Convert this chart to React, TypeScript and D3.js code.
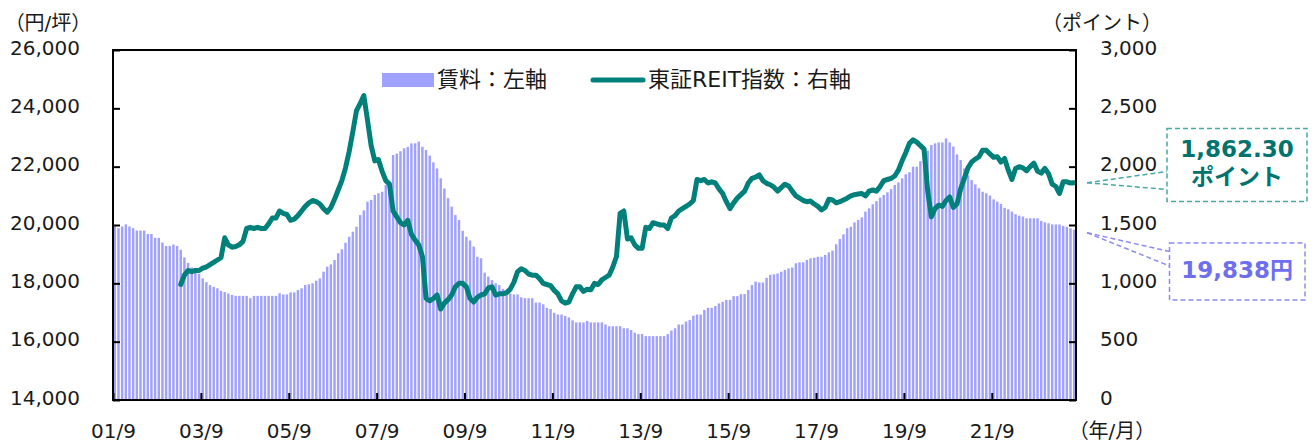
import React, { useRef, useEffect } from 'react';
import * as d3 from 'd3';

// monthly series, 2001/9 .. 2023/7
const START_YEAR = 2001;
const START_MONTH = 9;

// 賃料 (円/坪)
const rent = [
  19950, 19890, 19950, 20020, 19950, 19890, 19810, 19810, 19810, 19690, 19690, 19560, 19560, 19400, 19280, 19280, 19330, 19280,
  19150, 18890, 18700, 18540, 18480, 18330, 18170, 18040, 17940, 17880, 17830, 17740, 17700, 17650, 17600, 17570, 17570, 17570,
  17570, 17490, 17570, 17570, 17570, 17570,
  17570, 17570, 17570, 17660, 17620, 17620, 17690, 17690, 17770, 17830, 17940, 17970, 18000, 18090, 18170, 18400, 18570, 18650,
  18800, 19030, 19170, 19390, 19600, 19770, 19940, 20340, 20500, 20800, 20860, 21030, 21090, 21140, 21370, 21470,
  22400, 22450, 22530, 22630, 22680, 22800, 22800, 22860, 22680, 22570, 22380, 22150, 21940, 21600, 21250, 20920, 20630, 20340,
  20170, 19800, 19600, 19470, 19260, 18910, 18860, 18370, 18230, 18110, 18000, 17940, 17810, 17650, 17650, 17620, 17620, 17520,
  17490, 17490, 17490, 17340, 17340, 17280, 17160, 17120, 16990, 16930, 16930, 16880, 16830, 16730, 16660, 16660, 16660, 16710,
  16660, 16660,
  16660, 16660, 16590, 16530, 16530, 16530, 16530, 16460, 16460, 16400, 16310, 16260, 16260, 16190, 16190, 16190, 16190, 16190,
  16190, 16260, 16380, 16460, 16590, 16590, 16690, 16740, 16890, 16930, 16930, 17090, 17160, 17160, 17220, 17310, 17370, 17430,
  17430, 17560, 17560, 17630, 17630, 17770, 17940, 18060,
  18030, 18030, 18190, 18290, 18310, 18340, 18400, 18460, 18510, 18540, 18690, 18720, 18720, 18800, 18860, 18880, 18910, 18910,
  18970, 19060, 19120, 19340, 19520, 19680, 19890, 19940, 20090, 20170, 20260, 20460, 20570, 20710, 20820, 20940, 21030, 21120,
  21230, 21370, 21460, 21600, 21740, 21810, 22000, 22000,
  22190, 22510, 22550, 22740, 22800, 22830, 22830, 22970, 22830, 22690, 22420, 22230, 21940, 21710, 21540, 21390, 21260, 21140,
  21090, 21010, 20880, 20800, 20720, 20590, 20540, 20460, 20370, 20320, 20290, 20230, 20230, 20230, 20230, 20140, 20090, 20060,
  20020, 20020, 20020, 19970, 19940, 19890, 19838,
];

// 東証REIT指数, starts 2003/3
const reitStart = 18;
const reit = [
  990, 1070, 1110, 1100, 1110, 1110, 1130, 1140, 1160, 1180, 1200, 1220, 1390, 1330, 1310, 1315, 1330, 1360, 1470, 1480,
  1470, 1480, 1470, 1470, 1510, 1560,
  1560, 1620, 1600, 1590, 1540, 1550, 1580, 1620, 1660, 1690, 1710, 1700, 1680, 1640, 1610, 1650, 1720, 1800, 1880, 1990,
  2130, 2300, 2480, 2540, 2610, 2400, 2180, 2050, 2060, 1960, 1880, 1850, 1620, 1570, 1520, 1500, 1540, 1420, 1370, 1330,
  1230, 870, 850, 870, 900,
  780, 830, 860, 900, 970, 1000, 1000, 970, 870, 840, 880, 900, 910, 960, 970, 900, 910, 910, 920, 950,
  1010, 1100, 1125, 1110, 1080, 1070, 1070, 1040, 1000, 990, 980, 940, 910, 850, 830, 840, 910, 970, 970, 930,
  950, 945, 1000,
  990, 1030, 1050, 1070, 1140, 1230, 1600, 1620, 1380, 1390, 1330, 1300, 1300, 1480, 1470, 1520, 1510, 1500, 1500, 1470,
  1560, 1580, 1620, 1640, 1660, 1680, 1710, 1890, 1880, 1890, 1860, 1870, 1860, 1810, 1770, 1700, 1640, 1690, 1730, 1760,
  1790, 1860, 1900, 1910, 1930,
  1880, 1857, 1845, 1825, 1790, 1820, 1850, 1835, 1790, 1750, 1730, 1710, 1700, 1705, 1680, 1660, 1630, 1650, 1720, 1715,
  1690, 1700, 1715, 1730, 1750, 1760, 1765, 1770, 1750, 1790, 1800, 1790, 1830, 1880, 1890, 1900, 1920, 1970, 2050, 2120,
  2200, 2230, 2210, 2180,
  2150, 1790, 1570, 1640, 1670, 1660, 1710, 1740, 1650, 1680, 1810, 1900, 1990, 2040, 2065, 2085, 2140, 2140, 2110, 2080,
  2085, 2040, 2070, 1970, 1890, 1985, 2000, 1990, 1965, 2000, 2030, 1960, 1945, 1985, 1940, 1850, 1830, 1770, 1870, 1870,
  1860, 1862.3,
];

const months = rent.map((_, i) => {
  const m = START_MONTH - 1 + i;
  const y = START_YEAR + Math.floor(m / 12);
  return `${String(y % 100).padStart(2, '0')}/${(m % 12) + 1}`;
});

const xTickLabels = ['01/9', '03/9', '05/9', '07/9', '09/9', '11/9', '13/9', '15/9', '17/9', '19/9', '21/9'];
const leftTicks = [14000, 16000, 18000, 20000, 22000, 24000, 26000];
const rightTicks = [0, 500, 1000, 1500, 2000, 2500, 3000];
const legendLabels = ['賃料：左軸', '東証REIT指数：右軸'];

const W = 1314;
const H = 443;
const FONT = '"DejaVu Sans", "Noto Sans CJK JP", sans-serif';
const BAR = '#a0a0ff';
const LINE = '#00807b';

const App = () => {
  const svgRef = useRef(null);

  useEffect(() => {
    const svg = d3.select(svgRef.current);
    svg.selectAll('*').remove();

    const left = 113, right = 1076, top = 50, bottom = 400;

    const x = d3.scaleBand().domain(months).range([left, right]).paddingInner(0.33).paddingOuter(0.165);
    const xEdge = d3.scaleLinear().domain([0, months.length]).range([left, right]);
    const yL = d3.scaleLinear().domain([14000, 26000]).range([bottom, top]);
    const yR = d3.scaleLinear().domain([0, 3000]).range([bottom, top]);
    const bw = x.bandwidth();

    svg.append('rect').attr('width', W).attr('height', H).attr('fill', '#fff');

    // bars
    svg.append('g')
      .selectAll('rect')
      .data(rent)
      .enter()
      .append('rect')
      .attr('x', (d, i) => x(months[i]))
      .attr('y', (d) => yL(d))
      .attr('width', bw)
      .attr('height', (d) => bottom - yL(d))
      .attr('fill', BAR);

    // REIT line
    const line = d3.line()
      .x((d, i) => x(months[i + reitStart]) + bw / 2)
      .y((d) => yR(d));

    svg.append('path')
      .datum(reit)
      .attr('fill', 'none')
      .attr('stroke', LINE)
      .attr('stroke-width', 5)
      .attr('stroke-linejoin', 'round')
      .attr('stroke-linecap', 'round')
      .attr('d', line);

    // frame
    svg.append('rect')
      .attr('x', left).attr('y', top)
      .attr('width', right - left).attr('height', bottom - top)
      .attr('fill', 'none').attr('stroke', '#000').attr('stroke-width', 2);

    const styleAxis = (g) => {
      g.select('.domain').remove();
      g.selectAll('line').attr('stroke', '#000').attr('stroke-width', 2);
      g.selectAll('text').attr('font-size', 20).attr('font-family', FONT).attr('fill', '#1a1a1a');
    };

    const axL = svg.append('g')
      .attr('transform', `translate(${left},0)`)
      .call(d3.axisLeft(yL).tickValues(leftTicks).tickSize(-7).tickPadding(33).tickFormat(d3.format(',')));
    styleAxis(axL);
    axL.selectAll('text').attr('dy', '0.2em');

    const axR = svg.append('g')
      .attr('transform', `translate(${right},0)`)
      .call(d3.axisRight(yR).tickValues(rightTicks).tickSize(-7).tickPadding(24).tickFormat(d3.format(',')));
    styleAxis(axR);
    axR.selectAll('text').attr('dy', '0.2em');

    const axB = svg.append('g')
      .attr('transform', `translate(0,${bottom})`)
      .call(d3.axisBottom(xEdge).tickValues(d3.range(0, 241, 24)).tickSize(-7).tickPadding(24)
        .tickFormat((d, i) => xTickLabels[i]));
    styleAxis(axB);

    // unit labels
    const unit = (txt, tx, ty, anchor) =>
      svg.append('text').attr('x', tx).attr('y', ty).attr('text-anchor', anchor)
        .attr('font-family', FONT).attr('font-size', 20).attr('fill', '#1a1a1a').text(txt);
    unit('（円/坪）', 48, 30, 'middle');
    unit('（ポイント）', 1162, 30, 'end');
    unit('（年/月）', 1112, 438, 'middle');

    // legend
    const lg = svg.append('g').attr('font-family', FONT).attr('font-size', 22).attr('fill', '#1a1a1a');
    lg.append('rect').attr('x', 382).attr('y', 73).attr('width', 52).attr('height', 14).attr('fill', BAR);
    lg.append('text').attr('x', 437).attr('y', 87).text(legendLabels[0]);
    lg.append('line').attr('x1', 593).attr('x2', 643).attr('y1', 80).attr('y2', 80)
      .attr('stroke', LINE).attr('stroke-width', 5).attr('stroke-linecap', 'round');
    lg.append('text').attr('x', 648).attr('y', 87).text(legendLabels[1]);

    // callouts
    const lastReit = reit[reit.length - 1];
    const lastRent = rent[rent.length - 1];

    const callout = (apexY, box, color, stroke, lines) => {
      const g = svg.append('g');
      [box.y + box.lead[0], box.y + box.lead[1]].forEach((ly) => {
        g.append('line').attr('x1', 1087).attr('y1', apexY).attr('x2', box.x).attr('y2', ly)
          .attr('stroke', stroke).attr('stroke-width', 1.5).attr('stroke-dasharray', '5,3');
      });
      g.append('rect').attr('x', box.x).attr('y', box.y).attr('width', box.w).attr('height', box.h)
        .attr('fill', '#fff').attr('stroke', stroke).attr('stroke-width', 1.5).attr('stroke-dasharray', '5,3');
      lines.forEach(([t, ty]) => {
        g.append('text').attr('x', box.x + box.w / 2).attr('y', ty).attr('text-anchor', 'middle')
          .attr('font-family', FONT).attr('font-size', 23).attr('font-weight', 'bold').attr('fill', color).text(t);
      });
    };

    callout(yR(lastReit), { x: 1167, y: 128.5, w: 140, h: 73, lead: [43, 61] }, '#00736e', '#45aaa3',
      [[d3.format(',.2f')(lastReit), 157], ['ポイント', 185]]);
    callout(yL(lastRent) + 3, { x: 1169.5, y: 243, w: 135.5, h: 57, lead: [8.5, 23] }, '#6e6ef0', '#8c8cf2',
      [[d3.format(',')(lastRent) + '円', 278]]);
  }, []);

  return (
    <svg
      ref={svgRef}
      width={W}
      height={H}
      style={{ position: 'absolute', left: 0, top: 0, display: 'block' }}
    />
  );
};

export default App;
